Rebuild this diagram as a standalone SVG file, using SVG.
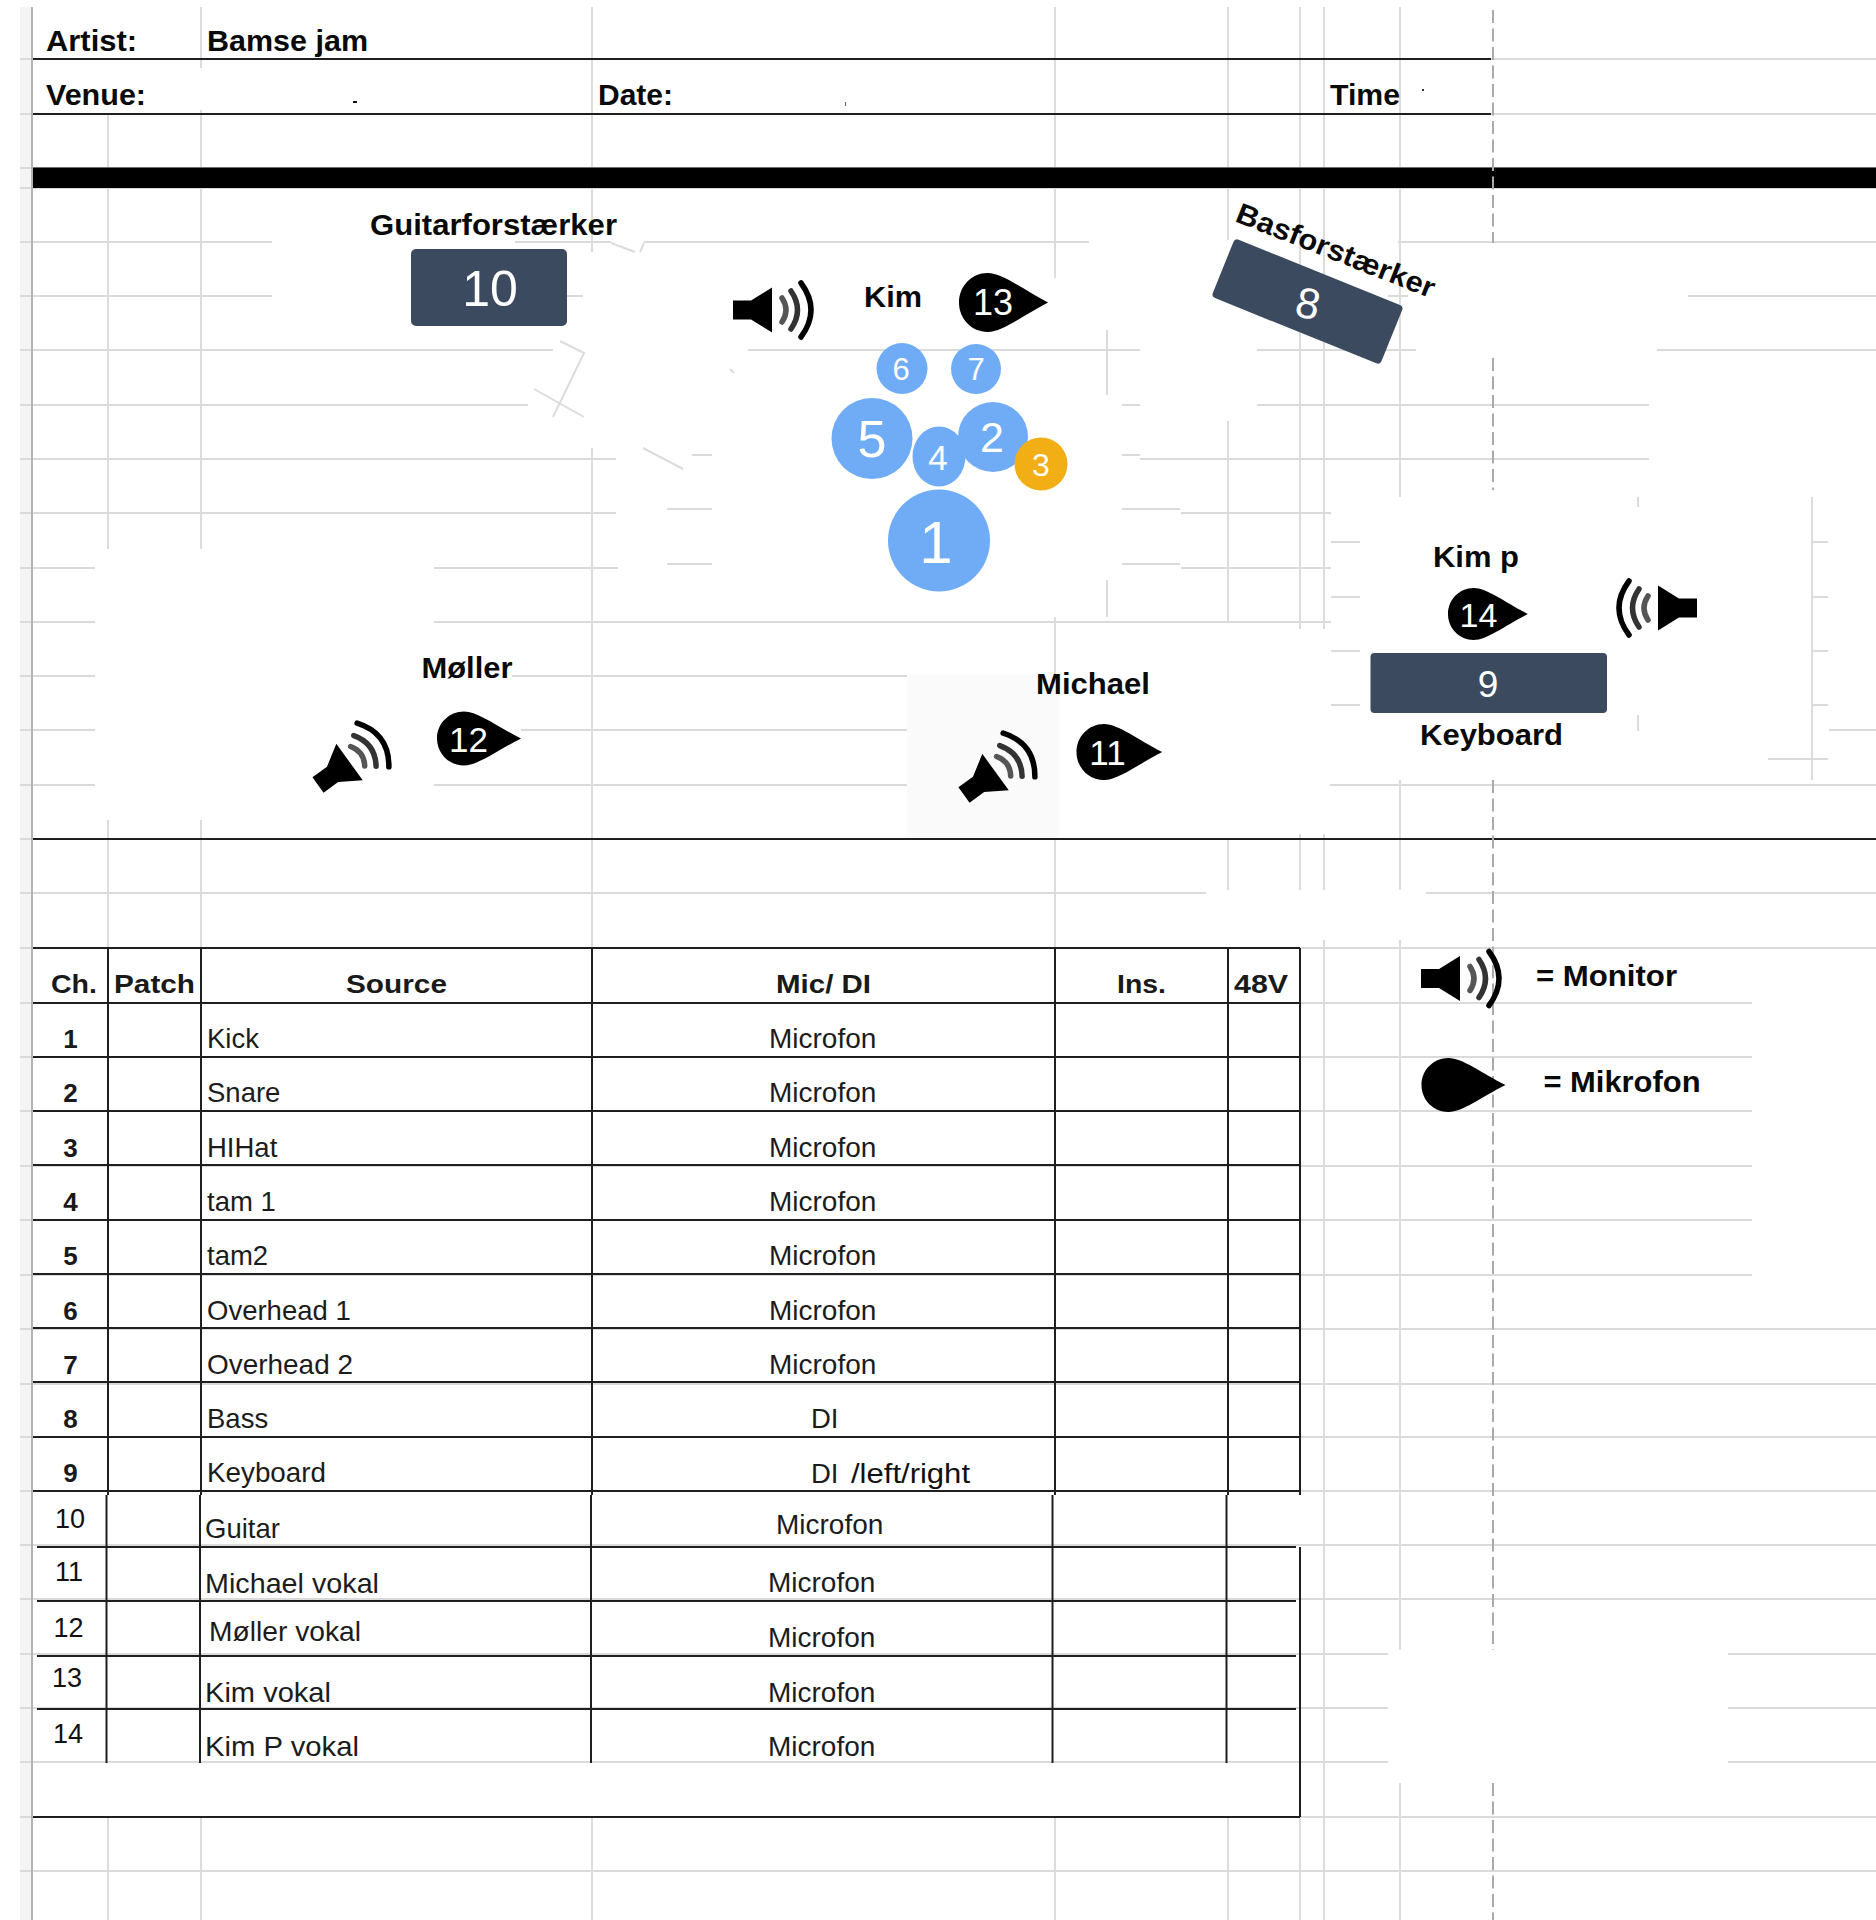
<svg xmlns="http://www.w3.org/2000/svg" width="1876" height="1920" viewBox="0 0 1876 1920">
<style>
text{font-family:"Liberation Sans",Arial,sans-serif;fill:#0a0a0a}
.b{font-weight:700;font-size:29px}
.h{font-weight:700;font-size:26px;fill:#1a1a1a}
.r{font-size:27.5px;fill:#1c1c1c}
.mf{font-size:28px;fill:#1c1c1c}
.l{font-size:28px;fill:#1c1c1c}
.n{font-size:27px;fill:#111}
.rn{font-weight:700;font-size:26px;text-anchor:middle;fill:#1a1a1a}
.m{text-anchor:middle;fill:#fff}
.g{stroke:#dadada;stroke-width:2;fill:none}
.v{stroke:#dcdcdc;stroke-width:2;fill:none}
.k{stroke:#1f1f1f;stroke-width:2;fill:none}
.box{fill:#3b4a5f}
.drum{fill:#70acf6}
</style>
<defs>
<g id="speaker">
<path d="M0 -9.500H18L39 -22.500V22.500L18 9.500H0Z" fill="#000"/>
<path d="M49 -12Q57 0 49 12" fill="none" stroke="#555" stroke-width="5.500" stroke-linecap="round"/>
<path d="M58 -19Q71 0 58 19" fill="none" stroke="#333" stroke-width="5.500" stroke-linecap="round"/>
<path d="M68 -27Q88 0 68 27" fill="none" stroke="#000" stroke-width="5.500" stroke-linecap="round"/>
</g>
<path id="mic" d="M0 0C0 -15 12 -27 27 -27C41 -27 60 -12 84 0C60 12 41 27 27 27C12 27 0 15 0 0Z" fill="#000"/>
</defs>
<rect width="1876" height="1920" fill="#fff"/>

<g id="sheet-grid">
<rect x="20" y="7" width="11" height="1913" fill="#f4f4f4"/>
<path class="g" d="M20 59H1876M20 114H1876M20 168H1876M20 188H1876
M20 242H272M515 242H611M644 242H1089M1398 242H1876
M20 296H272M567 296H583M1388 296H1408M1688 296H1876
M20 350H553M748 350H1140M1257 350H1416M1657 350H1876
M20 405H528M1122 405H1140M1257 405H1649
M20 459H616M692 455H712M1122 455H1140M1140 459H1649
M20 513H616M667 509H712M1122 509H1180M1181 513H1331
M20 568H95M434 568H618M667 564H712M1122 564H1180M1181 568H1331
M20 622H95M434 622H1331
M20 676H95M512 676H907M20 730H95M521 730H907M1829 730H1876M20 785H95M434 785H907M1330 785H1876
M1768 759H1828
M1331 542H1360M1331 597H1360M1331 651H1360M1331 705H1360
M1812 542H1828M1812 597H1828M1812 651H1828M1812 705H1828
M20 839H33M20 893H1206M1426 893H1876M20 948H1876
M20 1003H1752M20 1057H1752M20 1111H1752M20 1166H1752M20 1220H1752M20 1275H1752
M20 1329H1876M20 1384H1876M20 1437H1876M20 1491H1876M20 1545H1876M20 1599H1876
M20 1654H1388M1728 1654H1876M20 1708H1388M1728 1708H1876M20 1762H1388M1728 1762H1876
M20 1817H1876M20 1871H1876"/>
<path class="v" d="M108 114V549M108 820V948M108 1817V1920
M201 7V68M201 110V549M201 820V948M201 1817V1920
M592 7V252M592 448V948M592 1817V1920
M1055 7V278M1055 617V675M1055 838V948M1055 1817V1920
M1107 330V395M1107 580V617
M1228 7V240M1228 421V622M1228 839V890M1228 1817V1920
M1300 7V629M1300 834V890M1300 1817V1920
M1324 7V629M1324 834V890M1324 940V1920
M1400 7V497M1400 780V890M1400 940V1650M1400 1783V1920
M1638 497V507M1638 715V731M1812 497V780"/>
<path class="v" stroke-width="1.500" d="M560 341L584 353L553 417M534 389L584 417M643 448L683 469M611 243L635 252M644 243L640 252M730 369L734 373"/>
<path d="M32 7V1920" stroke="#b4b4b4" stroke-width="2" fill="none"/>
<rect x="907" y="675" width="152" height="162" fill="#fafafa"/>
</g>

<g id="header">
<path class="k" d="M33 59H1491M33 114H1491"/>
<rect x="33" y="167.500" width="1843" height="20.500" fill="#000"/>
<path class="k" d="M33 839H1876"/>
<text class="b" x="46" y="51" textLength="91" lengthAdjust="spacingAndGlyphs">Artist:</text>
<text class="b" x="207" y="51" textLength="161" lengthAdjust="spacingAndGlyphs">Bamse jam</text>
<text class="b" x="46" y="105" textLength="100" lengthAdjust="spacingAndGlyphs">Venue:</text>
<text class="b" x="598" y="105" textLength="75" lengthAdjust="spacingAndGlyphs">Date:</text>
<text class="b" x="1330" y="105" textLength="70" lengthAdjust="spacingAndGlyphs">Time</text>
<rect x="353" y="101" width="4" height="2" fill="#111"/>
<rect x="845" y="102" width="1" height="4" fill="#3a6ea5"/>
<rect x="1422" y="89" width="2" height="2" fill="#333"/>
</g>
<path d="M1493 10V243M1493 358V490M1493 780V1650M1493 1783V1920" stroke="#aaa" stroke-width="2" stroke-dasharray="13 5.500" fill="none"/>

<g id="node-guitar-amp">
<text class="b" x="370" y="235" textLength="247" lengthAdjust="spacingAndGlyphs">Guitarforstærker</text>
<rect class="box" x="411" y="249" width="156" height="77" rx="5"/>
<text class="m" x="490" y="306" font-size="50">10</text>
</g>
<g id="node-bass-amp">
<text class="b" transform="translate(1234 221) rotate(21.500)" textLength="211" lengthAdjust="spacingAndGlyphs">Basforstærker</text>
<rect class="box" x="-91" y="-31.500" width="182" height="63" rx="4" transform="translate(1307.500 301.500) rotate(22)"/>
<text class="m" font-size="43" transform="translate(1305 318) rotate(12)">8</text>
</g>
<g id="node-kim">
<use href="#speaker" transform="translate(733 310)"/>
<text class="b" x="864" y="307" textLength="58" lengthAdjust="spacingAndGlyphs">Kim</text>
<use href="#mic" transform="translate(959 302.500) scale(1.060 1.090)"/>
<text class="m" x="993" y="315" font-size="36">13</text>
</g>
<g id="node-drums">
<circle class="drum" cx="902" cy="368.500" r="25.500"/>
<text class="m" x="901" y="380" font-size="31">6</text>
<circle class="drum" cx="976" cy="369" r="25"/>
<text class="m" x="976" y="380" font-size="31">7</text>
<circle class="drum" cx="872" cy="438.500" r="40.500"/>
<text class="m" x="872" y="457" font-size="52">5</text>
<ellipse class="drum" cx="939" cy="456.500" rx="26.500" ry="30"/>
<text class="m" x="938" y="470" font-size="35">4</text>
<circle class="drum" cx="993" cy="437" r="35"/>
<text class="m" x="992" y="452" font-size="43">2</text>
<circle cx="1041" cy="464" r="26.500" fill="#f2ae15"/>
<text class="m" x="1041" y="476" font-size="32">3</text>
<circle class="drum" cx="939" cy="540.500" r="51"/>
<text class="m" x="936" y="563" font-size="60">1</text>
</g>
<g id="node-moller">
<text class="b" x="421.500" y="678" textLength="91" lengthAdjust="spacingAndGlyphs">Møller</text>
<use href="#speaker" transform="translate(318 785) rotate(-36)"/>
<use href="#mic" transform="translate(437 738.500)"/>
<text class="m" x="468.500" y="752" font-size="35">12</text>
</g>
<g id="node-michael">
<text class="b" x="1036" y="694" textLength="114" lengthAdjust="spacingAndGlyphs">Michael</text>
<use href="#speaker" transform="translate(964 795) rotate(-36)"/>
<use href="#mic" transform="translate(1076.500 752) scale(1.020 1.040)"/>
<text class="m" x="1107.500" y="765" font-size="35">11</text>
</g>
<g id="node-kim-p">
<text class="b" x="1433" y="567" textLength="86" lengthAdjust="spacingAndGlyphs">Kim p</text>
<use href="#mic" transform="translate(1448 614) scale(.950 .960)"/>
<text class="m" x="1478.500" y="627" font-size="34">14</text>
<use href="#speaker" transform="translate(1697 608) scale(-1 1)"/>
</g>
<g id="node-keyboard">
<rect class="box" x="1370.500" y="653" width="236.500" height="60" rx="4"/>
<text class="m" x="1488" y="697" font-size="37">9</text>
<text class="b" x="1420" y="745" textLength="143" lengthAdjust="spacingAndGlyphs">Keyboard</text>
</g>
<g id="legend">
<use href="#speaker" transform="translate(1421 978.500)"/>
<text class="b" x="1536" y="986" textLength="141" lengthAdjust="spacingAndGlyphs">= Monitor</text>
<use href="#mic" transform="translate(1421.500 1085)"/>
<text class="b" x="1543.500" y="1092" textLength="157" lengthAdjust="spacingAndGlyphs">= Mikrofon</text>
</g>

<g id="table">
<path class="k" d="M33 948H1300M33 1003H1300M33 1057H1300M33 1111H1300M33 1165H1300M33 1220H1300M33 1274H1300M33 1328H1300M33 1382H1300M33 1437H1300M33 1491H1300
M37 1547H1296M37 1601H1296M37 1656H1296M37 1709H1296M33 1817H1300
M108 948V1495M201 948V1495M592 948V1495M1055 948V1495M1228 948V1495M1300 948V1495
M106.500 1495V1763M200 1495V1763M591 1495V1763M1052.500 1495V1763M1226.500 1495V1763M1300 1547V1817"/>
<text class="h" x="51" y="993" textLength="46" lengthAdjust="spacingAndGlyphs">Ch.</text>
<text class="h" x="114" y="993" textLength="81" lengthAdjust="spacingAndGlyphs">Patch</text>
<text class="h" x="346" y="993" textLength="101" lengthAdjust="spacingAndGlyphs">Source</text>
<text class="h" x="776" y="993" textLength="95" lengthAdjust="spacingAndGlyphs">Mic/ DI</text>
<text class="h" x="1117" y="993" textLength="49" lengthAdjust="spacingAndGlyphs">Ins.</text>
<text class="h" x="1234" y="993" textLength="54" lengthAdjust="spacingAndGlyphs">48V</text>
<text class="rn" x="70.500" y="1048">1</text><text class="rn" x="70.500" y="1102">2</text><text class="rn" x="70.500" y="1157">3</text><text class="rn" x="70.500" y="1211">4</text><text class="rn" x="70.500" y="1265">5</text><text class="rn" x="70.500" y="1320">6</text><text class="rn" x="70.500" y="1374">7</text><text class="rn" x="70.500" y="1428">8</text><text class="rn" x="70.500" y="1482">9</text>
<text class="n" x="70" y="1528" text-anchor="middle">10</text><text class="n" x="69" y="1581" text-anchor="middle">11</text><text class="n" x="68.500" y="1637" text-anchor="middle">12</text><text class="n" x="67" y="1687" text-anchor="middle">13</text><text class="n" x="68" y="1743" text-anchor="middle">14</text>
<text class="r" x="207" y="1048">Kick</text><text class="r" x="207" y="1102">Snare</text><text class="r" x="207" y="1157">HIHat</text><text class="r" x="207" y="1211">tam 1</text><text class="r" x="207" y="1265">tam2</text><text class="r" x="207" y="1320">Overhead 1</text><text class="r" x="207" y="1374" textLength="146" lengthAdjust="spacingAndGlyphs">Overhead 2</text><text class="r" x="207" y="1428">Bass</text><text class="r" x="207" y="1482" textLength="119" lengthAdjust="spacingAndGlyphs">Keyboard</text>
<text class="r" x="205" y="1538">Guitar</text><text class="l" x="205" y="1593" textLength="174" lengthAdjust="spacingAndGlyphs">Michael vokal</text><text class="l" x="209" y="1641" textLength="152" lengthAdjust="spacingAndGlyphs">Møller vokal</text><text class="l" x="205" y="1702" textLength="126" lengthAdjust="spacingAndGlyphs">Kim vokal</text><text class="l" x="205" y="1756" textLength="154" lengthAdjust="spacingAndGlyphs">Kim P vokal</text>
<text class="mf" x="769" y="1048">Microfon</text><text class="mf" x="769" y="1102">Microfon</text><text class="mf" x="769" y="1157">Microfon</text><text class="mf" x="769" y="1211">Microfon</text><text class="mf" x="769" y="1265">Microfon</text><text class="mf" x="769" y="1320">Microfon</text><text class="mf" x="769" y="1374">Microfon</text>
<text class="r" x="811" y="1428">DI</text><text class="r" x="811" y="1483">DI</text><text class="n" x="851" y="1483" textLength="119" lengthAdjust="spacingAndGlyphs">/left/right</text>
<text class="mf" x="776" y="1534">Microfon</text><text class="mf" x="768" y="1592">Microfon</text><text class="mf" x="768" y="1647">Microfon</text><text class="mf" x="768" y="1702">Microfon</text><text class="mf" x="768" y="1756">Microfon</text>
</g>
</svg>
